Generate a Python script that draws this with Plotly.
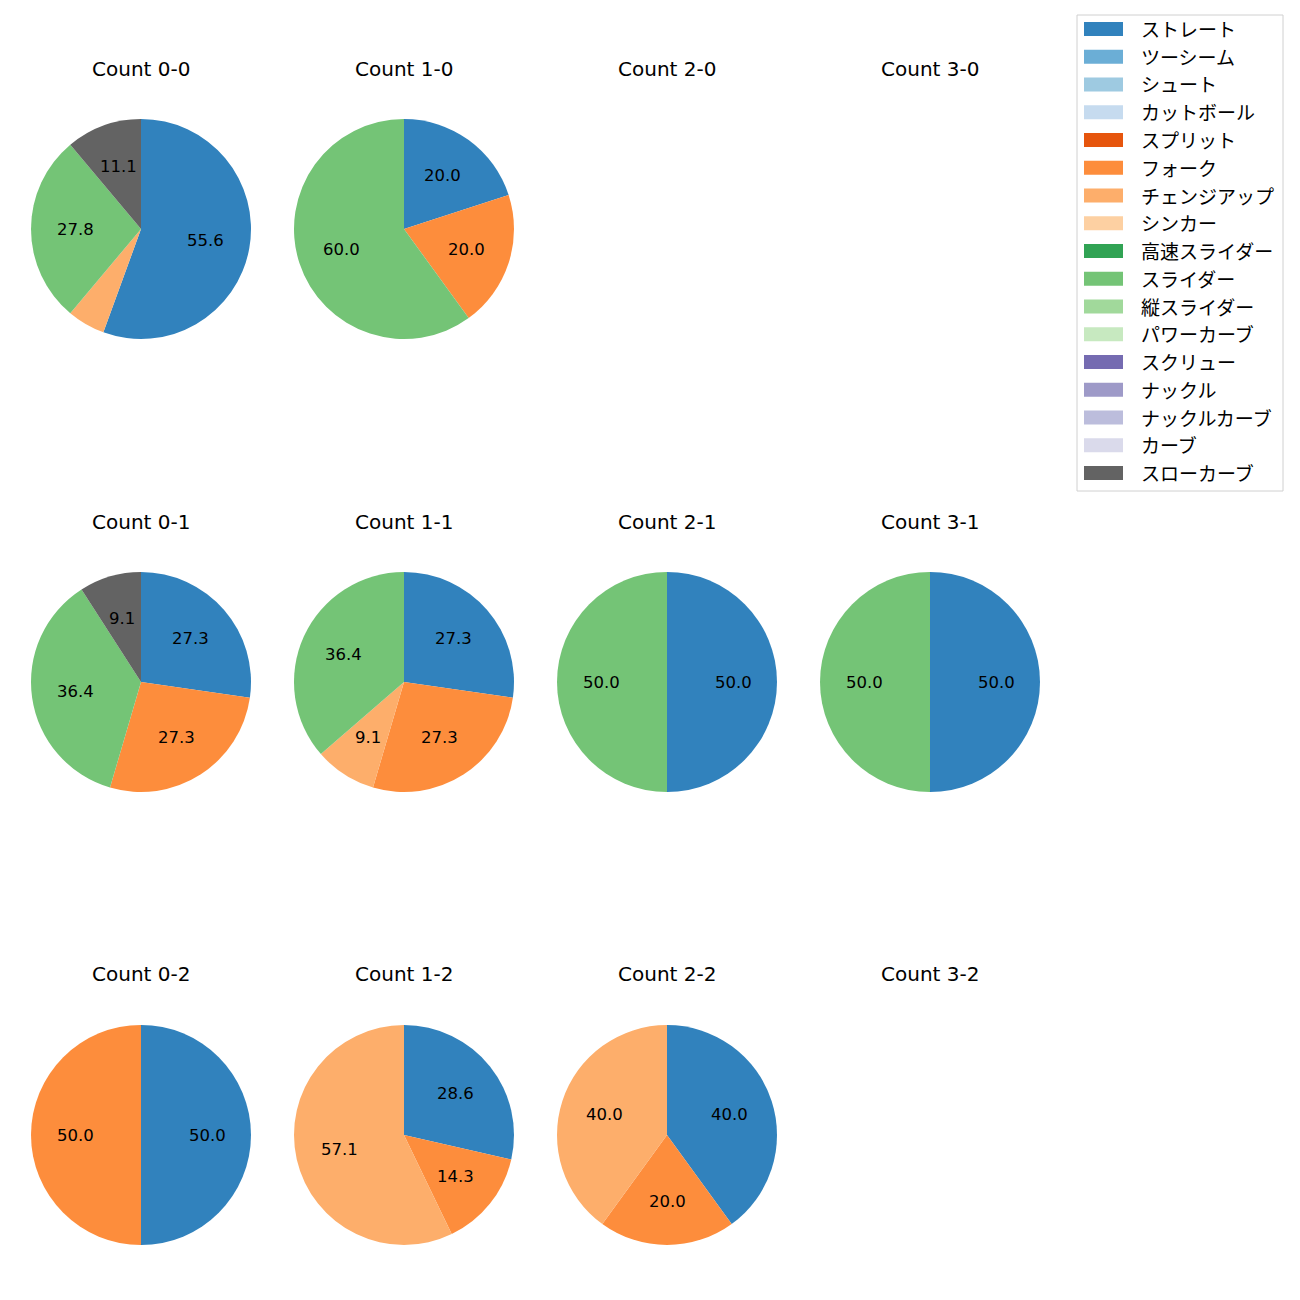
import math
import plotly.graph_objects as go

W = H = 1300
OFF = 8  # page body margin compensation
LATIN = "DejaVu Sans"
JP = "Noto Sans CJK JP"

pitch_types = ["ストレート", "ツーシーム", "シュート", "カットボール", "スプリット", "フォーク",
               "チェンジアップ", "シンカー", "高速スライダー", "スライダー", "縦スライダー",
               "パワーカーブ", "スクリュー", "ナックル", "ナックルカーブ", "カーブ", "スローカーブ"]
colors = ["#3182bd", "#6baed6", "#9ecae1", "#c6dbef", "#e6550d", "#fd8d3c", "#fdae6b", "#fdd0a2",
          "#31a354", "#74c476", "#a1d99b", "#c7e9c0", "#756bb1", "#9e9ac8", "#bcbddc", "#dadaeb",
          "#636363"]

keys = ["st", "ts", "sh", "ct", "sp", "fk", "ch", "si", "hs", "sl", "vs",
        "pc", "sc", "kn", "kc", "cv", "sc2"]


def row(**kw):
    return [kw.get(k, 0) for k in keys]


count_titles = ["Count 0-0", "Count 1-0", "Count 2-0", "Count 3-0",
                "Count 0-1", "Count 1-1", "Count 2-1", "Count 3-1",
                "Count 0-2", "Count 1-2", "Count 2-2", "Count 3-2"]
count_values = [
    row(st=10, ch=1, sl=5, sc2=2),
    row(st=1, fk=1, sl=3),
    row(),
    row(),
    row(st=3, fk=3, sl=4, sc2=1),
    row(st=3, fk=3, ch=1, sl=4),
    row(st=1, sl=1),
    row(st=1, sl=1),
    row(st=1, fk=1),
    row(st=2, fk=1, ch=4),
    row(st=2, fk=1, ch=2),
    row(),
]

col_cx = [141, 404, 667, 930]
row_cy = [229, 682, 1135]
title_y = [69, 522, 974]
R = 110


def px(x):
    return (x - OFF) / W


def py(y):
    return 1 - (y - OFF) / H


fig = go.Figure()
annotations = []
shapes = []

for i, (title, vals) in enumerate(zip(count_titles, count_values)):
    r, c = divmod(i, 4)
    cx, cy = col_cx[c], row_cy[r]
    annotations.append(dict(x=px(cx), y=py(title_y[r]), xref="paper", yref="paper",
                            text=title, showarrow=False,
                            font=dict(size=20, color="black", family=LATIN),
                            xanchor="center", yanchor="middle"))
    total = sum(vals)
    if total == 0:
        continue
    labs = [p for p, v in zip(pitch_types, vals) if v > 0]
    vs = [v for v in vals if v > 0]
    cols = [colors[pitch_types.index(p)] for p in labs]
    fig.add_trace(go.Pie(
        labels=labs, values=vs, sort=False, direction="clockwise", rotation=0,
        marker=dict(colors=cols, line=dict(width=0)),
        textinfo="none", hoverinfo="label+percent", showlegend=False,
        domain=dict(x=[px(cx - R), px(cx + R)], y=[py(cy + R), py(cy - R)]),
    ))
    cum = 0
    for v in vs:
        pct = 100 * v / total
        mid = (cum + v / 2) / total
        cum += v
        if pct < 8:
            continue
        ang = math.pi / 2 - 2 * math.pi * mid
        tx = cx + 0.6 * R * math.cos(ang)
        ty = cy - 0.6 * R * math.sin(ang)
        annotations.append(dict(x=px(tx), y=py(ty), xref="paper", yref="paper",
                                text=f"{pct:.1f}", showarrow=False,
                                font=dict(size=16.5, color="black", family=LATIN),
                                xanchor="center", yanchor="middle"))

# custom legend
lx0, lx1, ly0, ly1 = 1077, 1283, 15, 491
shapes.append(dict(type="rect", xref="paper", yref="paper",
                   x0=px(lx0), x1=px(lx1), y0=py(ly1), y1=py(ly0),
                   line=dict(color="#d0d0d0", width=1), fillcolor="rgba(255,255,255,0.8)"))
step = (473 - 29) / 16
for k, (p, col) in enumerate(zip(pitch_types, colors)):
    yc = 29 + k * step
    shapes.append(dict(type="rect", xref="paper", yref="paper",
                       x0=px(1084), x1=px(1123), y0=py(yc + 7), y1=py(yc - 7),
                       line=dict(width=0), fillcolor=col))
    annotations.append(dict(x=px(1139), y=py(yc - 0.5), xref="paper", yref="paper", text=p,
                            showarrow=False, xanchor="left", yanchor="middle",
                            font=dict(size=19, color="black", family=JP)))

fig.update_layout(width=W, height=H, margin=dict(l=0, r=0, t=0, b=0),
                  paper_bgcolor="white", plot_bgcolor="white",
                  annotations=annotations, shapes=shapes, showlegend=False,
                  font=dict(family=LATIN))
fig.write_html("out.html")
